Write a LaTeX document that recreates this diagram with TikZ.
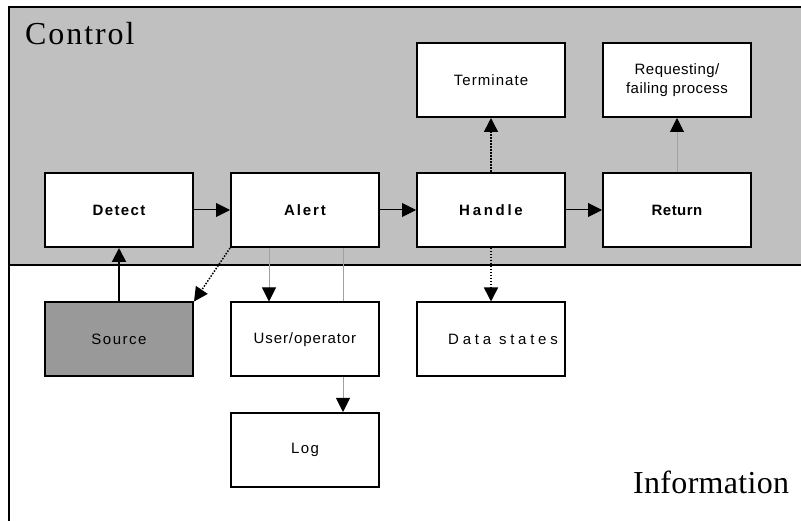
\documentclass[tikz,border=0pt]{standalone}
\usepackage{fontspec}
\setmainfont{Liberation Serif}
\setsansfont{Liberation Sans}
\usetikzlibrary{arrows.meta}
\pgfdeclarelayer{bg}
\pgfdeclarelayer{mid}
\pgfsetlayers{bg,mid,main}
\definecolor{ctrlgray}{HTML}{C0C0C0}
\definecolor{srcgray}{HTML}{999999}
\definecolor{linegray}{HTML}{A0A0A0}
\tikzset{
  box/.style={draw=black, line width=2pt, fill=white, minimum width=148pt,
    minimum height=74pt, inner sep=0pt, align=center},
  ls/.style={font={\fontsize{15}{19}\selectfont\sffamily\addfontfeatures{LetterSpace=#1}}},
  lsb/.style={font={\fontsize{15}{19}\selectfont\sffamily\bfseries\addfontfeatures{LetterSpace=#1}}},
  tip/.style={-{Triangle[length=14pt,width=14pt,color=black]}},
  conn/.style={tip, line width=1pt, black},
  dotconn/.style={tip, line width=1.5pt, black, dash pattern=on 1.5pt off 1.5pt},
  grayconn/.style={tip, line width=1pt, linegray},
  frame/.style={line width=2pt, black},
  region/.style={font={\fontsize{32}{36}\selectfont\rmfamily\addfontfeatures{LetterSpace=#1}}, inner sep=0pt}
}
\begin{document}
\begin{tikzpicture}[x=1pt,y=-1pt]
\useasboundingbox (0,0) rectangle (801,521);
\clip (0,0) rectangle (801,521);
\begin{pgfonlayer}{bg}
  \fill[ctrlgray] (9,7) rectangle (810,265);
  \draw[frame] (810,7) -- (9,7) -- (9,530);
  \draw[frame] (9,265) -- (810,265);
\end{pgfonlayer}
\node[region=6, anchor=base west] (ctl) at (25,45) {Control};
\node[region=1, anchor=base west] (info) at (633,493) {Information};

\node[box, lsb=9] (detect) at (119,210) {Detect};
\node[box, lsb=13] (alert) at (305,210) {Alert};
\node[box, lsb=18] (handle) at (491,210) {Handle};
\node[box, lsb=3] (return) at (677,210) {Return};
\node[box, ls=7] (term) at (491,80) {Terminate};
\node[box, ls=3] (req) at (677,80) {Requesting/\\failing process};
\node[box, ls=10, fill=srcgray] (source) at (119,339.5) {Source};
\node[box, ls=6] (user) at (305,339.5) {User/operator};
\node[box, ls=25, anchor=center] (data) at (491,339.5) {\hspace*{24pt}Data states};
\node[box, ls=9] (log) at (305,450) {Log};

\draw[conn] (detect) -- (alert);
\draw[conn] (alert) -- (handle);
\draw[conn] (handle) -- (return);
\draw[dotconn] (handle) -- (term);
\draw[dotconn] (handle) -- (data);
\draw[grayconn] (return) -- (req);
\draw[dotconn] (alert.south west) -- (source.north east);
\draw[tip, line width=2pt, black] (source.north) -- (detect.south);
\draw[grayconn] ([xshift=-36pt]alert.south) -- ([xshift=-36pt]user.north);
\begin{pgfonlayer}{mid}
  \draw[grayconn] ([xshift=38pt]alert.south) -- ([xshift=38pt]log.north);
\end{pgfonlayer}
\end{tikzpicture}
\end{document}
